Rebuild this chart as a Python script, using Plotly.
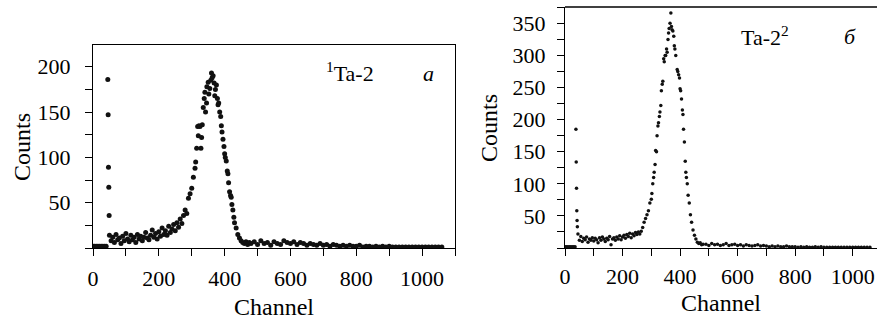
import plotly.graph_objects as go

# ---------------- data: panel "a" (1Ta-2) ----------------
ch_a = [0, 5, 10, 15, 20, 25, 30, 35, 40,
        45, 46, 47, 48, 49,
        50, 55, 60, 65, 70, 75, 80, 85, 90, 95, 100, 105, 110, 115, 120, 125, 130, 135, 140, 145,
        150, 155, 160, 165, 170, 175, 180, 185, 190, 195, 200, 205, 210, 215, 220, 225, 230, 235,
        240, 245, 250, 255, 260, 265, 270, 275, 280, 285, 290, 295, 300, 305, 310, 312, 315, 318,
        320, 322, 325, 328, 330, 332, 335, 338, 340, 342, 345, 346, 350, 352, 355, 358, 360, 362,
        365, 368, 370, 372, 375, 378, 380, 382, 385, 388, 390, 392, 395, 398, 400, 402, 405, 408,
        410, 412, 415, 418, 420, 422, 425, 428, 430, 435, 440, 445, 450, 455, 460, 465, 470, 475,
        480, 490, 500, 510, 520, 530, 540, 550, 560, 570, 580, 590, 600, 610, 620, 630, 640, 650,
        660, 670, 680, 690, 700, 710, 720, 730, 740, 750, 760, 770, 780, 790, 800, 810, 820, 830,
        840, 850, 860, 870, 880, 890, 900, 910, 920, 930, 940, 950, 960, 970, 980, 990, 1000,
        1010, 1020, 1030, 1040, 1050, 1060]
counts_a = [2, 2, 2, 2, 2, 2, 2, 2, 2,
            186, 147, 89, 67, 36,
            14, 8, 12, 6, 15, 9, 11, 5, 13, 8, 16, 10, 7, 14, 9, 12, 6, 15, 10, 13,
            8, 12, 17, 11, 9, 14, 20, 12, 16, 10, 18, 13, 22, 15, 19, 14, 24, 17,
            21, 26, 19, 28, 23, 32, 27, 36, 42, 38, 55, 60, 66, 78, 88, 95, 110, 134,
            124, 135, 134, 110, 122, 136, 155, 165, 172, 150, 160, 178, 183, 170, 176, 185, 193, 188,
            190, 182, 168, 175, 180, 165, 158, 160, 150, 145, 135, 128, 120, 112, 104, 100, 96, 85,
            82, 72, 62, 58, 56, 48, 42, 34, 28, 22, 15, 11, 8, 6, 5, 7, 4, 6,
            5, 7, 4, 8, 5, 6, 3, 7, 5, 4, 8, 6, 5, 7, 4, 6, 5, 3,
            5, 4, 3, 5, 3, 4, 2, 4, 3, 2, 3, 2, 3, 2, 2, 3, 1, 2,
            2, 1, 2, 1, 2, 1, 2, 1, 1, 1, 1, 1, 1, 1, 1, 1, 1,
            1, 1, 1, 1, 1, 1]

# ---------------- data: panel "б" (Ta-2^2) ----------------
ch_b = [0, 5, 10, 15, 20, 25, 30, 35,
        38, 39, 40, 41, 42, 43,
        45, 50, 55, 60, 65, 70, 75, 80, 85, 90, 95, 100, 105, 110, 115, 120, 125, 130, 135, 140,
        145, 150, 155, 160, 165, 170, 175, 180, 185, 190, 195, 200, 205, 210, 215, 220, 225, 230,
        235, 240, 245, 250, 255, 260, 265, 270, 275, 280, 285, 290, 295, 300, 302, 305, 308, 310,
        313, 315, 318, 320, 323, 325, 328, 330, 333, 335, 338, 340, 343, 345, 348, 350, 353, 355,
        358, 360, 362, 365, 368, 370, 372, 375, 378, 380, 382, 385, 390, 392, 395, 398, 400, 402,
        405, 408, 410, 412, 415, 418, 420, 422, 425, 428, 432, 436, 440, 445, 450, 455, 460, 465,
        470, 475, 480, 490, 500, 510, 520, 530, 540, 550, 560, 570, 580, 590, 600, 610, 620, 630,
        640, 650, 660, 670, 680, 690, 700, 710, 720, 730, 740, 750, 760, 770, 780, 790, 800, 810,
        820, 830, 840, 850, 860, 870, 880, 890, 900, 910, 920, 930, 940, 950, 960, 970, 980, 990,
        1000, 1010, 1020, 1030, 1040, 1050, 1060]
counts_b = [2, 2, 2, 2, 2, 2, 2, 2,
            185, 134, 93, 58, 43, 33,
            22, 12, 18, 10, 15, 13, 17, 9, 14, 12, 16, 11, 15, 13, 8, 16, 12, 17, 14, 10,
            15, 13, 18, 5, 14, 16, 12, 17, 14, 19, 13, 17, 20, 15, 21, 18, 23, 16,
            22, 19, 24, 21, 25, 22, 26, 32, 40, 46, 52, 58, 70, 76, 85, 100, 110, 118,
            130, 152, 150, 175, 190, 195, 205, 212, 222, 245, 255, 260, 295, 290, 300, 300, 310, 305,
            325, 335, 342, 350, 366, 345, 340, 338, 330, 315, 310, 300, 278, 275, 270, 265, 248, 245,
            232, 215, 208, 185, 165, 135, 118, 110, 100, 82, 70, 52, 40, 28, 20, 14, 9, 7,
            8, 5, 6, 6, 4, 7, 5, 6, 4, 5, 7, 4, 5, 6, 4, 5, 3, 5,
            4, 3, 4, 5, 3, 4, 3, 2, 3, 2, 3, 2, 2, 3, 2, 2, 2, 1,
            2, 1, 2, 1, 1, 2, 1, 2, 1, 1, 1, 1, 1, 1, 1, 1, 1, 1,
            1, 1, 1, 1, 1, 1, 1]

x_major = [0, 200, 400, 600, 800, 1000]
ya_major = [50, 100, 150, 200]
yb_major = [50, 100, 150, 200, 250, 300, 350]

W, H = 877, 322
FONT = "Liberation Serif"
FS = 22
FS_TITLE = 24


def px(x):
    return x / W


def py(y):
    return 1 - y / H


fig = go.Figure()
fig.add_trace(go.Scatter(x=ch_a, y=counts_a, mode="markers", xaxis="x", yaxis="y",
                         marker=dict(size=5, color="#111111"), showlegend=False))
fig.add_trace(go.Scatter(x=ch_b, y=counts_b, mode="markers", xaxis="x2", yaxis="y2",
                         marker=dict(size=3.5, color="#111111"), showlegend=False))

tickfont = dict(family=FONT, size=FS, color="black")
axis_common = dict(showline=True, linecolor="black", linewidth=1.3, ticks="outside",
                   ticklen=7, tickwidth=1.2, tickcolor="black", showgrid=False, zeroline=False,
                   tickfont=tickfont, tickmode="array", fixedrange=True, automargin=False)
minor_common = dict(ticks="outside", ticklen=7, tickwidth=1.2, tickcolor="black",
                    showgrid=False)

fig.update_layout(
    width=W, height=H,
    margin=dict(l=0, r=0, t=0, b=0, autoexpand=False),
    paper_bgcolor="white", plot_bgcolor="white",
    font=dict(family=FONT, size=FS, color="black"),
    xaxis=dict(axis_common, domain=[px(93), px(455)], range=[0, 1100],
               tickvals=x_major, ticktext=[str(v) for v in x_major], ticklabelstandoff=3,
               minor=dict(minor_common, dtick=100, tick0=0), mirror=True, anchor="y"),
    yaxis=dict(axis_common, domain=[py(248), py(45)], range=[0, 224],
               tickvals=ya_major, ticktext=[str(v) for v in ya_major], ticklabelstandoff=10,
               minor=dict(minor_common, dtick=25, tick0=0), mirror=True, anchor="x"),
    xaxis2=dict(axis_common, domain=[px(565), 1.0], range=[0, 1084.5],
                tickvals=x_major, ticktext=[str(v) for v in x_major], ticklabelstandoff=1,
                minor=dict(minor_common, dtick=100, tick0=0), mirror=False, anchor="y2"),
    yaxis2=dict(axis_common, domain=[py(248), py(7)], range=[0, 375.5],
                tickvals=yb_major, ticktext=[str(v) for v in yb_major], ticklabelstandoff=7,
                minor=dict(minor_common, dtick=25, tick0=0), mirror=False, anchor="x2"),
)

# top border line of right panel
fig.add_shape(type="line", xref="x2 domain", yref="y2 domain", x0=0, x1=1, y0=1, y1=1,
              line=dict(color="black", width=1.3))

tf = dict(family=FONT, size=FS, color="black")
ttf = dict(family=FONT, size=FS_TITLE, color="black")
anns = [
    dict(text="Counts", x=px(22), y=py(147), textangle=-90, font=ttf),
    dict(text="Channel", x=px(274), y=py(307), font=ttf),
    dict(text="Counts", x=px(489), y=py(128), textangle=-90, font=ttf),
    dict(text="Channel", x=px(721), y=py(303), font=ttf),
    dict(text="<sup>1</sup>Ta-2", x=px(350), y=py(72), font=tf),
    dict(text="<i>a</i>", x=px(428), y=py(73), font=tf),
    dict(text="Ta-2<sup>2</sup>", x=px(765), y=py(36), font=tf),
    dict(text="<i>б</i>", x=px(850), y=py(37), font=tf),
]
for a in anns:
    a.update(xref="paper", yref="paper", showarrow=False,
             xanchor="center", yanchor="middle")
    fig.add_annotation(**a)

fig.write_html("out.html")
